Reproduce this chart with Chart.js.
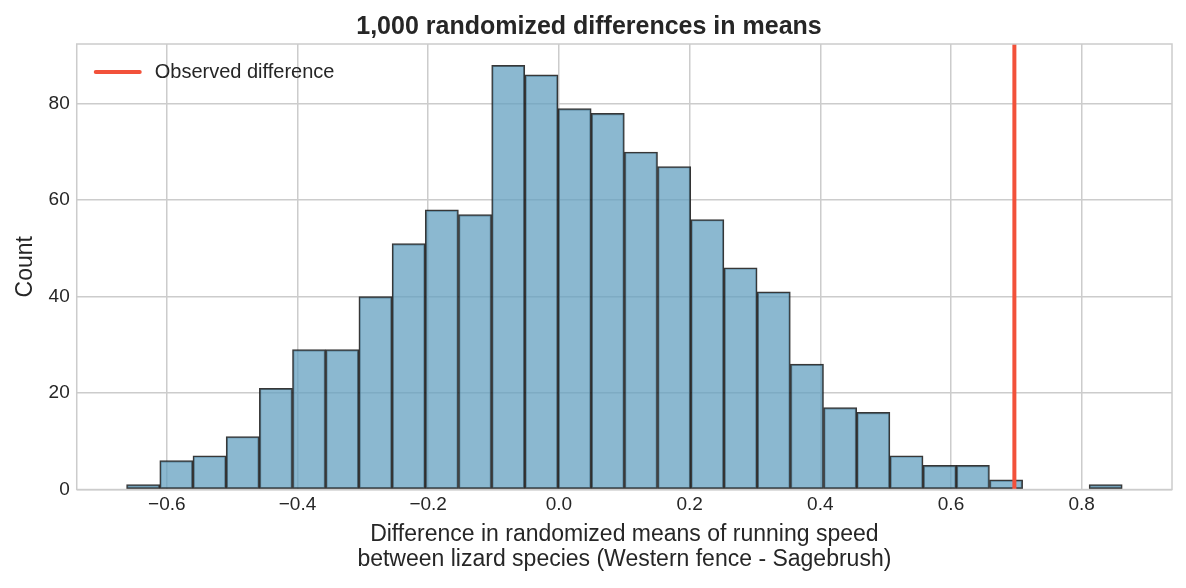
<!DOCTYPE html>
<html>
<head>
<meta charset="utf-8">
<script src="https://cdn.jsdelivr.net/npm/chart.js@4"></script>
<style>
	html, body { margin: 0; padding: 0; background: #fff; }
	#wrap { width: 1186px; height: 588px; }
</style>
</head>
<body>
<div id="wrap"><canvas id="chart"></canvas></div>
<script>
// === Data ===

// bin centers of the histogram (30 bins)
const binCenters = [
	-0.6362, -0.5854, -0.5346, -0.4838, -0.4330, -0.3823, -0.3315, -0.2807, -0.2299, -0.1791,
	-0.1283, -0.0775, -0.0267, 0.0241, 0.0748, 0.1256, 0.1764, 0.2272, 0.2780, 0.3288,
	0.3796, 0.4304, 0.4812, 0.5319, 0.5827, 0.6335, 0.6843, 0.7351, 0.7859, 0.8367
];
const counts = [
	1, 6, 7, 11, 21, 29, 29, 40, 51, 58,
	57, 88, 86, 79, 78, 70, 67, 56, 46, 41,
	26, 17, 16, 7, 5, 5, 2, 0, 0, 1
];
const observedDiff = 0.697;
const xTicks = [-0.6, -0.4, -0.2, 0.0, 0.2, 0.4, 0.6, 0.8];
const yTicks = [0, 20, 40, 60, 80];

const titleText = '1,000 randomized differences in means';
const xTitle = ['Difference in randomized means of running speed', 'between lizard species (Western fence - Sagebrush)'];
const yTitle = 'Count';
const legendLabel = 'Observed difference';

const xMin = -0.7378, xMax = 0.9382;
const yMax = 92.4;


// === Chart ===

const gridColor = '#cccccc';
const textColor = '#262626';
const lineColor = '#f2513a';
const fontFamily = '"Liberation Sans", Arial, sans-serif';

// frame around the plot area + legend drawn inside it
const frameAndLegend = {
	id: 'frameAndLegend',
	afterDatasetsDraw(chart) {
		const a = chart.chartArea;
		const ctx = chart.ctx;
		ctx.save();
		ctx.strokeStyle = gridColor;
		ctx.lineWidth = 1.5;
		ctx.strokeRect(a.left, a.top, a.right - a.left, a.bottom - a.top);

		const y = a.top + 28;
		ctx.strokeStyle = lineColor;
		ctx.lineWidth = 4;
		ctx.lineCap = 'round';
		ctx.beginPath();
		ctx.moveTo(a.left + 19, y);
		ctx.lineTo(a.left + 63, y);
		ctx.stroke();

		ctx.fillStyle = textColor;
		ctx.font = '20px ' + fontFamily;
		ctx.textBaseline = 'middle';
		ctx.textAlign = 'left';
		ctx.fillText(legendLabel, a.left + 78, y);
		ctx.restore();
	}
};

function createHistogram(canvas) {
	return new Chart(canvas, {
		data: {
			datasets: [
				{
					type: 'bar',
					label: 'counts',
					data: binCenters.map((c, i) => ({ x: c, y: counts[i] })),
					backgroundColor: 'rgba(100, 160, 192, 0.75)',
					borderColor: 'rgba(20, 20, 20, 0.85)',
					borderWidth: 1.5,
					borderSkipped: false,
					barPercentage: 1,
					categoryPercentage: 1,
					order: 2
				},
				{
					type: 'line',
					label: legendLabel,
					data: [{ x: observedDiff, y: 0 }, { x: observedDiff, y: yMax }],
					borderColor: lineColor,
					backgroundColor: lineColor,
					borderWidth: 4,
					pointRadius: 0,
					fill: false,
					order: 1
				}
			]
		},
		options: {
			responsive: true,
			maintainAspectRatio: false,
			animation: false,
			layout: { padding: { left: 6, right: 14, top: 6, bottom: 16 } },
			plugins: {
				title: {
					display: true,
					text: titleText,
					color: textColor,
					font: { family: fontFamily, size: 25, weight: 'bold' },
					padding: { top: 6, bottom: 2 }
				},
				legend: { display: false },
				tooltip: { enabled: false }
			},
			scales: {
				x: {
					type: 'linear',
					min: xMin,
					max: xMax,
					offset: false,
					grid: { color: gridColor, lineWidth: 1.5, drawTicks: false, offset: false },
					border: { display: false },
					afterBuildTicks: axis => { axis.ticks = xTicks.map(v => ({ value: v })); },
					ticks: {
						color: textColor,
						font: { family: fontFamily, size: 19 },
						padding: 4,
						maxRotation: 0,
						callback: v => v.toFixed(1).replace('-', '\u2212')
					},
					title: {
						display: true,
						text: xTitle,
						color: textColor,
						font: { family: fontFamily, size: 23, lineHeight: 1.08 },
						padding: { top: 2, bottom: 0 }
					}
				},
				y: {
					min: 0,
					max: yMax,
					grid: { color: gridColor, lineWidth: 1.5, drawTicks: false },
					border: { display: false },
					afterBuildTicks: axis => { axis.ticks = yTicks.map(v => ({ value: v })); },
					ticks: {
						color: textColor,
						font: { family: fontFamily, size: 19 },
						padding: 7
					},
					title: {
						display: true,
						text: yTitle,
						color: textColor,
						font: { family: fontFamily, size: 23 },
						padding: { top: 6, bottom: 2 }
					}
				}
			}
		},
		plugins: [frameAndLegend]
	});
}

createHistogram(document.getElementById('chart'));
</script>
</body>
</html>
